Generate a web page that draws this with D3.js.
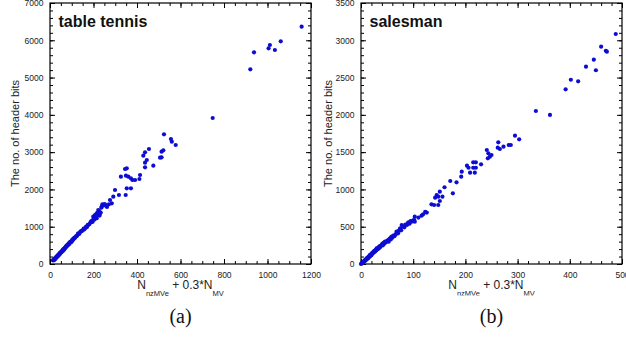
<!DOCTYPE html>
<html>
<head>
<meta charset="utf-8">
<script src="https://cdn.jsdelivr.net/npm/d3@7"></script>
<style>
  body { margin: 0; background: #fff; }
  svg { display: block; }
</style>
</head>
<body>
<div id="chart"></div>
<script>
//***************** data *******************/
// table tennis: [N_nzMVe + 0.3*N_MV, header bits]
var tableTennis = [
  [14,95],[16,110],[18,125],[19,100],[21,140],[23,150],[24,135],[26,170],[28,180],[29,165],
  [31,200],[33,210],[34,195],[36,230],[38,241],[40,225],[41,260],[43,270],[45,290],[46,275],
  [48,305],[50,320],[52,310],[54,330],[56,355],[58,370],[59,350],[61,390],[63,400],[65,385],
  [67,421],[69,440],[71,430],[73,465],[75,480],[77,470],[79,500],[81,520],[84,510],[86,545],
  [88,560],[90,540],[92,585],[95,600],[97,590],[100,598],[102,640],[104,660],[107,650],[110,690],
  [112,700],[115,706],[118,730],[121,750],[125,760],[128,800],[130,823],[135,810],[139,860],[143,880],
  [146,885],[150,900],[155,950],[158,930],[161,957],[166,1000],[170,990],[174,1050],[176,1046],[182,1070],
  [186,1120],[190,1150],[192,1135],[196,1130],[199,1269],[200,1210],[203,1190],[205,1280],[207,1314],[209,1300],
  [211,1260],[213,1340],[215,1225],[217,1370],[219,1320],[222,1448],[223,1350],[226,1420],[228,1300],[230,1360],
  [233,1380],[236,1510],[238,1537],[241,1601],[245,1580],[250,1600],[253,1601],[257,1560],[262,1530],[271,1601],
  [276,1716],[284,1628],[291,1806],[299,1985],[317,1851],[326,2342],[345,2548],[348,1851],[349,2369],[353,2566],
  [353,2030],[360,2342],[372,2298],[372,2030],[379,2253],[391,2253],[411,2280],[414,2387],[429,2905],[437,2995],
  [437,2718],[437,2593],[445,2789],[455,3084],[475,2637],[506,2852],[513,2862],[513,3012],[521,3049],[524,3478],
  [556,3353],[560,3281],[578,3192],[748,3916],[921,5222],[938,5678],[1005,5785],[1011,5874],[1034,5740],[1061,5973],
  [1157,6365]
];

// salesman: [N_nzMVe + 0.3*N_MV, header bits]
var salesman = [
  [0,0],[1,8],[2,15],[3,20],[3,12],[4,28],[5,30],[6,40],[6,32],[7,45],[8,52],[8,42],[9,60],[10,65],
  [11,76],[11,60],[12,80],[13,85],[14,92],[14,78],[15,100],[16,105],[17,121],[17,100],[18,118],[19,126],
  [20,135],[20,116],[21,142],[22,150],[23,144],[24,165],[25,158],[26,176],[27,168],[28,190],[29,182],
  [30,210],[31,196],[32,214],[33,204],[34,226],[35,216],[36,240],[37,228],[38,246],[40,255],[41,272],
  [42,250],[44,286],[45,274],[46,299],[48,292],[50,312],[52,322],[53,300],[55,342],[57,330],[58,362],
  [59,366],[60,352],[62,380],[64,372],[66,396],[68,433],[70,414],[71,412],[72,440],[74,462],[75,479],
  [77,452],[78,523],[80,500],[83,492],[85,530],[88,523],[90,548],[91,559],[93,540],[95,575],[97,567],
  [100,586],[102,590],[103,634],[103,567],[110,622],[116,648],[119,666],[123,701],[126,690],[135,800],
  [140,791],[142,889],[145,925],[148,903],[148,791],[151,845],[151,970],[156,903],[160,1029],[171,1113],
  [176,948],[183,1095],[192,1171],[193,1238],[203,1318],[206,1291],[209,1224],[215,1364],[215,1291],
  [218,1224],[220,1364],[220,1291],[230,1337],[241,1529],[243,1417],[244,1484],[247,1439],[250,1462],
  [262,1560],[263,1632],[266,1542],[273,1573],[283,1596],[287,1596],[295,1721],[303,1672],[335,2052],
  [362,1999],[392,2343],[402,2471],[416,2450],[431,2646],[446,2740],[450,2598],[460,2914],[469,2860],
  [471,2847],[488,3084]
];

// tick labels
var ttXTicks = [0, 200, 400, 600, 800, 1000, 1200];
var ttYTicks = [0, 1000, 2000, 3000, 4000, 5000, 6000, 7000];
var smXTicks = [0, 100, 200, 300, 400, 500];
var smYTicks = [0, 500, 1000, 1500, 2000, 2500, 3000, 3500];

//************* set dimensions ***************/
var W = 626, H = 339;
var plotTop = 3, plotBottom = 264;
var dotColor = "#0c0cd2";
var sans = "'Liberation Sans', Arial, Helvetica, sans-serif";

var panels = [
  { name: "table tennis", tag: "(a)", data: tableTennis,
    left: 50, right: 311, xMax: 1200, yMax: 7000,
    xTicks: ttXTicks, yTicks: ttYTicks, xMinor: 50, yMinor: 200,
    yLabelX: 18.5, clipTitle: false },
  { name: "salesman", tag: "(b)", data: salesman,
    left: 361, right: 622, xMax: 500, yMax: 3500,
    xTicks: smXTicks, yTicks: smYTicks, xMinor: 20, yMinor: 100,
    yLabelX: 331.5, clipTitle: true }
];

//************** setup svg  *****************/
var svg = d3.select("#chart")
  .append("svg")
    .attr("width", W)
    .attr("height", H);

svg.append("rect")
  .attr("width", W).attr("height", H)
  .attr("fill", "#fff");

var defs = svg.append("defs");

panels.forEach(function(p, i) {
  var x = d3.scaleLinear().domain([0, p.xMax]).range([p.left, p.right]);
  var y = d3.scaleLinear().domain([0, p.yMax]).range([plotBottom, plotTop]);
  var xMinorVals = d3.range(0, p.xMax + 0.001, p.xMinor);
  var yMinorVals = d3.range(0, p.yMax + 0.001, p.yMinor);
  var g = svg.append("g");

  // minor ticks, all four sides, inward
  g.append("g").attr("transform", "translate(0," + plotBottom + ")")
    .call(d3.axisBottom(x).tickValues(xMinorVals).tickSize(-3).tickFormat(""));
  g.append("g").attr("transform", "translate(0," + plotTop + ")")
    .call(d3.axisTop(x).tickValues(xMinorVals).tickSize(-3).tickFormat(""));
  g.append("g").attr("transform", "translate(" + p.left + ",0)")
    .call(d3.axisLeft(y).tickValues(yMinorVals).tickSize(-3).tickFormat(""));
  g.append("g").attr("transform", "translate(" + p.right + ",0)")
    .call(d3.axisRight(y).tickValues(yMinorVals).tickSize(-3).tickFormat(""));

  // major ticks with labels
  g.append("g").attr("class", "lab").attr("transform", "translate(0," + plotBottom + ")")
    .call(d3.axisBottom(x).tickValues(p.xTicks).tickSize(-5).tickPadding(7.5).tickFormat(d3.format("d")));
  g.append("g").attr("transform", "translate(0," + plotTop + ")")
    .call(d3.axisTop(x).tickValues(p.xTicks).tickSize(-5).tickFormat(""));
  g.append("g").attr("class", "lab").attr("transform", "translate(" + p.left + ",0)")
    .call(d3.axisLeft(y).tickValues(p.yTicks).tickSize(-5).tickPadding(6.5).tickFormat(d3.format("d")));
  g.append("g").attr("transform", "translate(" + p.right + ",0)")
    .call(d3.axisRight(y).tickValues(p.yTicks).tickSize(-5).tickFormat(""));

  g.selectAll(".domain").remove();
  g.selectAll(".tick line").attr("stroke", "#000").attr("stroke-width", 1);
  g.selectAll(".lab text")
    .attr("font-family", sans)
    .attr("font-size", "8.5px")
    .attr("fill", "#222");

  // frame
  g.append("rect")
    .attr("x", p.left).attr("y", plotTop)
    .attr("width", p.right - p.left).attr("height", plotBottom - plotTop)
    .attr("fill", "none").attr("stroke", "#000").attr("stroke-width", 1.2);

  // points
  g.append("g").selectAll("circle")
    .data(p.data)
    .enter().append("circle")
      .attr("cx", function(d) { return x(d[0]); })
      .attr("cy", function(d) { return y(d[1]); })
      .attr("r", 2.1)
      .attr("fill", dotColor);

  // panel name
  g.append("text")
    .attr("x", p.left + 8.5)
    .attr("y", 26.5)
    .attr("font-family", sans)
    .attr("font-weight", "bold")
    .attr("font-size", "16px")
    .attr("fill", "#111")
    .text(p.name);

  // y label
  g.append("text")
    .attr("transform", "translate(" + p.yLabelX + "," + ((plotTop + plotBottom) / 2) + ") rotate(-90)")
    .attr("text-anchor", "middle")
    .attr("font-family", sans)
    .attr("font-size", "11px")
    .attr("fill", "#222")
    .text("The no. of header bits");

  // x label with subscripts
  var cx = (p.left + p.right) / 2;
  var xt = g.append("text")
    .attr("x", cx)
    .attr("y", 289)
    .attr("text-anchor", "middle")
    .attr("font-family", sans)
    .attr("font-size", "12px")
    .attr("fill", "#222");
  if (p.clipTitle) {
    defs.append("clipPath").attr("id", "clip" + i)
      .append("rect").attr("x", p.left - 20).attr("y", 270).attr("width", 320).attr("height", 25.5);
    xt.attr("clip-path", "url(#clip" + i + ")");
  }
  xt.append("tspan").text("N");
  xt.append("tspan").attr("font-size", "7.5px").attr("dy", 6.5).text("nzMVe");
  xt.append("tspan").attr("dy", -6.5).text(" + 0.3*N");
  xt.append("tspan").attr("font-size", "7.5px").attr("dy", 6.5).text("MV");

  // (a) / (b)
  g.append("text")
    .attr("x", cx)
    .attr("y", 323)
    .attr("text-anchor", "middle")
    .attr("font-family", "'Liberation Serif', 'Times New Roman', serif")
    .attr("font-size", "20px")
    .attr("fill", "#111")
    .text(p.tag);
});
</script>
</body>
</html>
